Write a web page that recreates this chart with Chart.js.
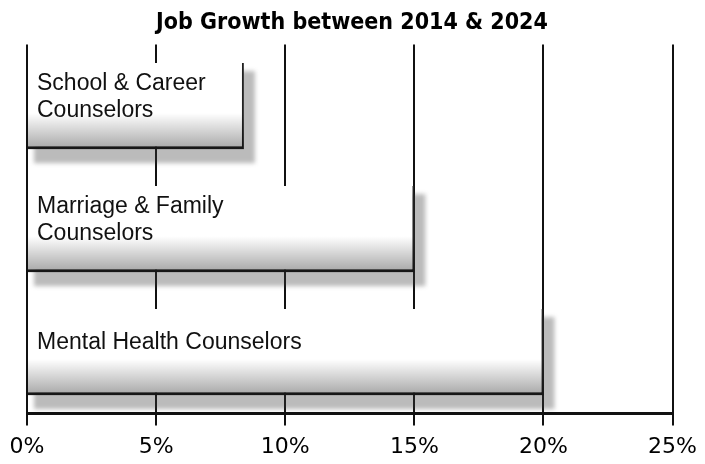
<!DOCTYPE html>
<html>
<head>
<meta charset="utf-8">
<script src="https://cdn.jsdelivr.net/npm/chart.js@4.4.1/dist/chart.umd.min.js"></script>
<style>
  body { margin: 0; background: #fff; }
  #wrap { width: 705px; height: 464px; }
</style>
</head>
<body>
<div id="wrap"><canvas id="jobChart" width="705" height="464"></canvas></div>
<script>
// chart data
const occupations = [['School & Career', 'Counselors'], ['Marriage & Family', 'Counselors'], ['Mental Health Counselors']];
const growthPct = [8.4, 15, 20];
const xTicks = [0, 5, 10, 15, 20, 25];
const chartTitle = 'Job Growth between 2014 & 2024';

// drop shadow under the bars, grey band at the bottom, label inside each bar
const barDecor = {
  id: 'barDecor',
  beforeDatasetsDraw(chart) {
    const ctx = chart.ctx;
    ctx.save();
    ctx.filter = 'blur(2px)';
    ctx.fillStyle = 'rgba(60,60,60,0.35)';
    chart.getDatasetMeta(0).data.forEach(bar => {
      const p = bar.getProps(['x', 'y', 'base', 'height'], true);
      const top = p.y - p.height / 2;
      ctx.fillRect(p.base + 6, top + 8, p.x - p.base + 5, p.height + 6);
    });
    ctx.restore();
  },
  afterDatasetsDraw(chart) {
    const ctx = chart.ctx;
    const meta = chart.getDatasetMeta(0);
    meta.data.forEach((bar, i) => {
      const p = bar.getProps(['x', 'y', 'base', 'height'], true);
      const bottom = p.y + p.height / 2;
      const g = ctx.createLinearGradient(0, bottom - 36, 0, bottom);
      g.addColorStop(0, 'rgba(0,0,0,0)');
      g.addColorStop(1, 'rgba(0,0,0,0.35)');
      ctx.fillStyle = g;
      ctx.fillRect(p.base, bottom - 36, p.x - p.base, 36);

      const lines = occupations[i];
      ctx.fillStyle = '#111';
      ctx.font = '23px "Liberation Sans", Arial, sans-serif';
      ctx.textBaseline = 'middle';
      ctx.textAlign = 'left';
      const lh = 27;
      const startY = p.y - 9 - (lines.length - 1) * lh / 2;
      lines.forEach((t, k) => ctx.fillText(t, p.base + 9, startY + k * lh));
    });
  }
};

const config = {
  type: 'bar',
  data: {
    labels: occupations,
    datasets: [{
      label: 'Job growth',
      data: growthPct,
      backgroundColor: '#fff',
      borderColor: '#222',
      borderWidth: { top: 0, left: 0, right: 2, bottom: 3 },
      borderSkipped: false,
      barPercentage: 0.7,
      categoryPercentage: 1
    }]
  },
  options: {
    responsive: false,
    animation: false,
    indexAxis: 'y',
    layout: { padding: { left: 27, right: 28, bottom: -4 } },
    plugins: {
      legend: { display: false },
      tooltip: { enabled: false },
      title: {
        display: true,
        text: chartTitle,
        color: '#000',
        font: { family: '"Liberation Sans Narrow", "DejaVu Sans Condensed", sans-serif', size: 23, weight: 'bold' },
        padding: { top: 9, bottom: 8 }
      }
    },
    scales: {
      x: {
        min: 0,
        max: 25,
        afterBuildTicks: axis => { axis.ticks = xTicks.map(v => ({ value: v })); },
        grid: { color: '#111', lineWidth: 2, tickLength: 12 },
        border: { color: '#111', width: 3 },
        ticks: {
          color: '#000',
          padding: 8,
          font: { family: '"DejaVu Sans", sans-serif', size: 22 },
          callback: v => v + '%'
        }
      },
      y: { display: false }
    }
  },
  plugins: [barDecor]
};

const ctx = document.getElementById('jobChart').getContext('2d');
const jobChart = new Chart(ctx, config);
</script>
</body>
</html>
